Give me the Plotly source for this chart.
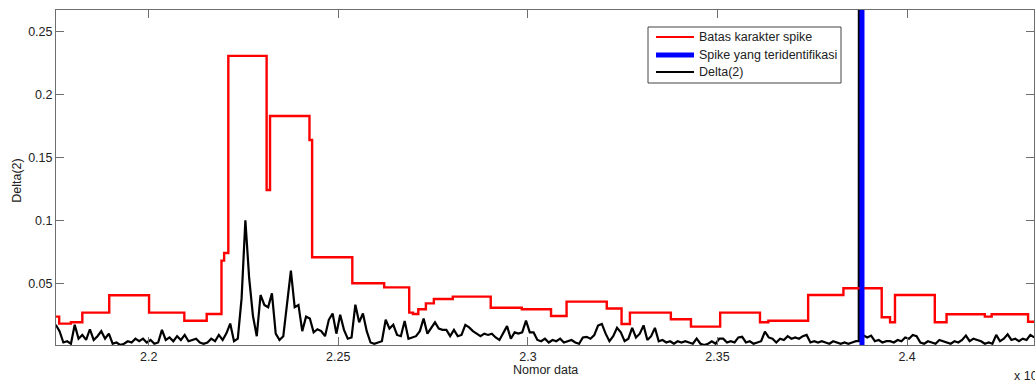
import plotly.graph_objects as go

# ---- axis ticks ----
x_ticks = [22000, 22500, 23000, 23500, 24000]
x_tick_labels = ["2.2", "2.25", "2.3", "2.35", "2.4"]
y_ticks = [0.05, 0.1, 0.15, 0.2, 0.25]
y_tick_labels = ["0.05", "0.1", "0.15", "0.2", "0.25"]

# ---- Delta(2) series (sampled every 10 data numbers) ----
delta_start = 21755
delta_step = 10
delta_values = [
    0.017, 0.012, 0.003, 0.004, 0.002, 0.017, 0.006, 0.009, 0.005, 0.0135,
    0.005, 0.008, 0.012, 0.006, 0.010, 0.002, 0.003, 0.001, 0.002, 0.004,
    0.003, 0.006, 0.004, 0.006, 0.003, 0.005, 0.002, 0.003, 0.013, 0.005,
    0.007, 0.004, 0.008, 0.005, 0.009, 0.004, 0.005, 0.006, 0.003, 0.002,
    0.003, 0.006, 0.004, 0.009, 0.005, 0.0103, 0.018, 0.004, 0.006, 0.038,
    0.100, 0.054, 0.024, 0.008, 0.0407, 0.0328, 0.031, 0.042, 0.010, 0.005,
    0.008, 0.0354, 0.060, 0.031, 0.0328, 0.012, 0.0235, 0.022, 0.011, 0.0135,
    0.012, 0.008, 0.021, 0.026, 0.010, 0.025, 0.013, 0.006, 0.007, 0.033,
    0.019, 0.026, 0.012, 0.003, 0.002, 0.003, 0.004, 0.021, 0.014, 0.017,
    0.009, 0.008, 0.020, 0.006, 0.007, 0.008, 0.012, 0.022, 0.010, 0.015,
    0.019, 0.014, 0.013, 0.013, 0.008, 0.013, 0.008, 0.009, 0.017, 0.015,
    0.012, 0.010, 0.008, 0.010, 0.009, 0.010, 0.007, 0.005, 0.011, 0.016,
    0.006, 0.011, 0.010, 0.011, 0.0203, 0.011, 0.011, 0.005, 0.004, 0.006,
    0.003, 0.005, 0.004, 0.006, 0.003, 0.004, 0.005, 0.003, 0.002, 0.007,
    0.0075, 0.006, 0.0088, 0.0164, 0.0177, 0.010, 0.004, 0.008, 0.0146, 0.011,
    0.004, 0.006, 0.0146, 0.007, 0.010, 0.0166, 0.005, 0.008, 0.0146, 0.004,
    0.005, 0.003, 0.004, 0.002, 0.004, 0.003, 0.004, 0.003, 0.002, 0.006,
    0.002, 0.001, 0.002, 0.004, 0.002, 0.006, 0.006, 0.003, 0.004, 0.003,
    0.007, 0.0075, 0.003, 0.004, 0.002, 0.003, 0.004, 0.0116, 0.007, 0.006,
    0.003, 0.006, 0.005, 0.008, 0.006, 0.007, 0.006, 0.008, 0.009, 0.003,
    0.004, 0.003, 0.004, 0.003, 0.002, 0.004, 0.003, 0.002, 0.003, 0.002,
    0.003, 0.004, 0.004, 0.0085, 0.007, 0.0085, 0.004, 0.005, 0.003, 0.004,
    0.004, 0.003, 0.005, 0.004, 0.007, 0.006, 0.009, 0.008, 0.003, 0.002,
    0.004, 0.003, 0.002, 0.005, 0.004, 0.003, 0.002, 0.004, 0.003, 0.005,
    0.0085, 0.004, 0.006, 0.005, 0.004, 0.002, 0.003, 0.002, 0.009, 0.004,
    0.006, 0.0095, 0.005, 0.006, 0.004, 0.006, 0.005, 0.009, 0.007,
]
# the large Delta(2) value at the identified spike (goes off the chart)
spike_delta_x = 23874
spike_delta_value = 1.2

# ---- spike-character limit (step line) ----
limit_x = [21755, 21764, 21795, 21825, 21896, 22001, 22094, 22153, 22192, 22199,
           22210, 22311, 22320, 22424, 22431, 22537, 22621, 22687, 22697, 22711,
           22731, 22752, 22802, 22902, 22984, 23061, 23102, 23208, 23247, 23269,
           23377, 23430, 23507, 23612, 23634, 23739, 23832, 23933, 23955, 23968,
           24073, 24104, 24205, 24223, 24319, 24335]
limit_y = [0.0235, 0.018, 0.019, 0.0267, 0.0405, 0.0267, 0.0203, 0.0256, 0.068, 0.074,
           0.2305, 0.124, 0.1828, 0.1637, 0.0706, 0.05, 0.0467, 0.0267, 0.0256, 0.0294,
           0.034, 0.0375, 0.0394, 0.0306, 0.0294, 0.024, 0.0354, 0.030, 0.0177, 0.0267,
           0.0214, 0.0156, 0.0267, 0.019, 0.0203, 0.0407, 0.046, 0.023, 0.019, 0.0407,
           0.019, 0.0254, 0.0235, 0.0254, 0.0195, 0.0195]

# ---- identified spike ----
identified_spike_x = 23881

# ---- legend entries (label, colour, line width) ----
legend_labels = ["Batas karakter spike", "Spike yang teridentifikasi", "Delta(2)"]
legend_colors = ["#ff0000", "#0000ff", "#000000"]
legend_widths = [2.2, 5, 2]

# build Delta trace with the narrow spike inserted
dx = [delta_start + i * delta_step for i in range(len(delta_values))]
dy = list(delta_values)
pts = list(zip(dx, dy))
base = min(pts, key=lambda p: abs(p[0] - spike_delta_x))[1]
pts += [(spike_delta_x - 1.5, base), (spike_delta_x, spike_delta_value), (spike_delta_x + 1.5, base)]
pts.sort(key=lambda p: p[0])
dx = [p[0] for p in pts]
dy = [p[1] for p in pts]

FONT = "Liberation Sans, Arial, Helvetica, sans-serif"
TXT = "#222222"
AX = "#6e6e6e"

fig = go.Figure()
fig.add_trace(go.Scatter(x=dx, y=dy, mode="lines", name=legend_labels[2],
                         line=dict(color=legend_colors[2], width=2.2), showlegend=False))
fig.add_trace(go.Scatter(x=limit_x, y=limit_y, mode="lines", name=legend_labels[0],
                         line=dict(color=legend_colors[0], width=2.4, shape="hv"),
                         showlegend=False))
fig.add_trace(go.Scatter(x=[identified_spike_x, identified_spike_x], y=[0, 1],
                         mode="lines", name=legend_labels[1],
                         line=dict(color=legend_colors[1], width=5), showlegend=False))

# ---- legend box drawn in paper coordinates (MATLAB-style compact legend) ----
W_PLOT, H_PLOT, L, T = 978.0, 335.0, 56.0, 10.0
def px_x(p):
    return (p - L) / W_PLOT
def px_y(p):
    return 1 - (p - T) / H_PLOT

shapes = [dict(type="rect", xref="paper", yref="paper",
               x0=px_x(648), x1=px_x(841), y0=px_y(83), y1=px_y(27),
               line=dict(color="#444444", width=1), fillcolor="white", layer="above")]
annotations = []
row_y = [37, 55, 72]
for lab, col, w, ry in zip(legend_labels, legend_colors, legend_widths, row_y):
    shapes.append(dict(type="line", xref="paper", yref="paper",
                       x0=px_x(656), x1=px_x(694), y0=px_y(ry), y1=px_y(ry),
                       line=dict(color=col, width=w), layer="above"))
    annotations.append(dict(text=lab, xref="paper", yref="paper", x=px_x(697), y=px_y(ry),
                            xanchor="left", yanchor="middle", showarrow=False,
                            font=dict(family=FONT, size=12.5, color=TXT)))

annotations += [
    dict(text="Nomor data", xref="paper", yref="paper", x=0.5, y=-0.075,
         xanchor="center", yanchor="middle", showarrow=False,
         font=dict(family=FONT, size=12.5, color=TXT)),
    dict(text="Delta(2)", xref="paper", yref="paper", x=-0.0400, y=0.49,
         xanchor="center", yanchor="middle", textangle=-90, showarrow=False,
         font=dict(family=FONT, size=12.5, color=TXT)),
    dict(text="x 10<sup>4</sup>", xref="paper", yref="paper", x=0.9775, y=-0.09,
         xanchor="left", yanchor="middle", showarrow=False,
         font=dict(family=FONT, size=12.5, color=TXT)),
]

fig.update_layout(
    width=1035, height=383,
    margin=dict(l=56, r=1, t=10, b=38),
    paper_bgcolor="white", plot_bgcolor="white",
    font=dict(family=FONT, size=12.5, color=TXT),
    showlegend=False,
    xaxis=dict(range=[21755.6, 24334.6], tickvals=x_ticks, ticktext=x_tick_labels,
               ticks="inside", ticklen=8, tickcolor=AX, showline=True, linecolor=AX,
               linewidth=1, mirror="ticks", showgrid=False, zeroline=False,
               tickfont=dict(family=FONT, size=12.5, color=TXT)),
    yaxis=dict(range=[0.001, 0.2669], tickvals=y_ticks, ticktext=y_tick_labels,
               ticks="inside", ticklen=8, tickcolor=AX, showline=True, linecolor=AX,
               linewidth=1, mirror="ticks", showgrid=False, zeroline=False,
               tickfont=dict(family=FONT, size=12.5, color=TXT)),
    shapes=shapes,
    annotations=annotations,
)

fig.write_html("out.html", config={"displayModeBar": False},
               post_script="document.body.style.margin='0';document.body.style.padding='0';")
